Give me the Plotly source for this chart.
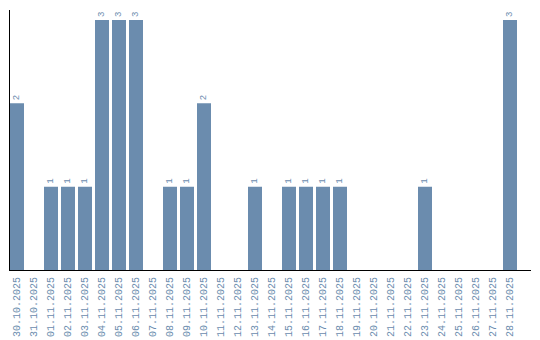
import plotly.graph_objects as go

dates = ["30.10.2025", "31.10.2025", "01.11.2025", "02.11.2025", "03.11.2025", "04.11.2025",
         "05.11.2025", "06.11.2025", "07.11.2025", "08.11.2025", "09.11.2025", "10.11.2025",
         "11.11.2025", "12.11.2025", "13.11.2025", "14.11.2025", "15.11.2025", "16.11.2025",
         "17.11.2025", "18.11.2025", "19.11.2025", "20.11.2025", "21.11.2025", "22.11.2025",
         "23.11.2025", "24.11.2025", "25.11.2025", "26.11.2025", "27.11.2025", "28.11.2025"]
counts = [2, 0, 1, 1, 1, 3, 3, 3, 0, 1, 1, 2, 0, 0, 1, 0, 1, 1, 1, 1, 0, 0, 0, 0, 1, 0, 0, 0, 0, 3]

color = "#6B8CAE"
labels = [str(v) if v > 0 else "" for v in counts]

fig = go.Figure(go.Bar(
    x=dates, y=counts, marker_color=color, marker_line_width=0,
    text=labels, textposition="outside", textangle=-90,
    textfont=dict(family="Liberation Mono", size=9, color=color),
    cliponaxis=False, width=14/17,
))

fig.update_layout(
    width=540, height=340, margin=dict(l=10, r=9, t=10, b=70, autoexpand=False),
    paper_bgcolor="white", plot_bgcolor="white", showlegend=False,
    xaxis=dict(type="category", range=[-0.412, 30.235], showline=True, linecolor="black",
               linewidth=1, ticks="", tickangle=-90, showgrid=False, automargin=False,
               ticklabelstandoff=2,
               tickfont=dict(family="Liberation Mono", size=10, color=color)),
    yaxis=dict(range=[0, 3.12], showline=True, linecolor="black", linewidth=1, automargin=False,
               showticklabels=False, ticks="", showgrid=False, zeroline=False),
)

fig.write_html("out.html")
